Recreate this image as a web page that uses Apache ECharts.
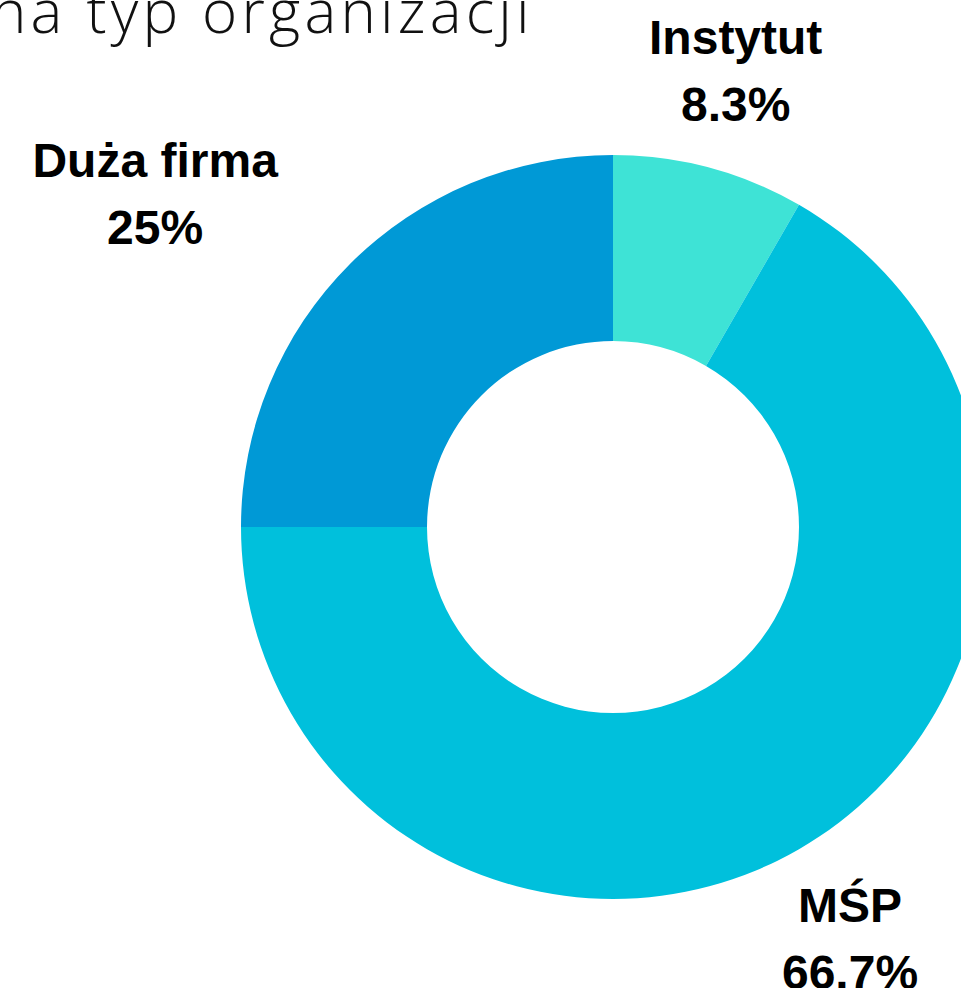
<!DOCTYPE html>
<html>
<head>
    <meta charset="utf-8">
    <title>na typ organizacji</title>
    <script src="https://cdn.jsdelivr.net/npm/echarts@6/dist/echarts.min.js"></script>
    <style>
        body, html { margin: 0; padding: 0; width: 100%; height: 100%; overflow: hidden; background: #fff; }
        #main { width: 961px; height: 988px; }
        /* lekko rozstrzelony tytuł (tylko tekst w Open Sans) */
        #main text[style*="Open Sans"] { letter-spacing: 4.2px; }
    </style>
</head>
<body>
    <div id="main"></div>
    <script>
        // dane
        const categories = ['Instytut', 'MŚP', 'Duża firma'];
        const counts = [1, 8, 3];
        const colors = ['#3ee3d6', '#00c0dc', '#0099d6'];

        var myChart = echarts.init(document.getElementById('main'), null, { renderer: 'svg' });

        const option = {
            backgroundColor: '#fff',
            animation: false,
            title: {
                text: 'na typ organizacji',
                left: -9,
                top: -20,
                padding: 0,
                textStyle: {
                    fontFamily: 'Open Sans',
                    fontWeight: 300,
                    fontSize: 60,
                    color: '#111'
                }
            },
            series: [{
                type: 'pie',
                center: [613, 527],
                radius: [186, 372],
                startAngle: 90,
                clockwise: true,
                avoidLabelOverlap: false,
                percentPrecision: 1,
                label: {
                    show: true,
                    position: 'outside',
                    formatter: '{b}\n{d}%',
                    fontFamily: 'Liberation Sans, Arial, sans-serif',
                    fontWeight: 'bold',
                    fontSize: 48,
                    lineHeight: 67,
                    color: '#000',
                    distanceToLabelLine: 0
                },
                labelLine: { show: false, length: 102, length2: 0 },
                // prawa strona: środek na kotwicy, lewa: blok dosunięty do kotwicy, linie wyśrodkowane
                labelLayout: function (p) {
                    if (p.labelRect.x >= 613) {
                        return { align: 'center', dy: 2 };
                    }
                    return { x: p.labelRect.x + p.labelRect.width / 2, align: 'center', dy: 2 };
                },
                emphasis: { disabled: true },
                itemStyle: { borderWidth: 0 },
                data: categories.map((name, i) => ({
                    name: name,
                    value: counts[i],
                    itemStyle: { color: colors[i] }
                }))
            }]
        };

        myChart.setOption(option);
    </script>
</body>
</html>
